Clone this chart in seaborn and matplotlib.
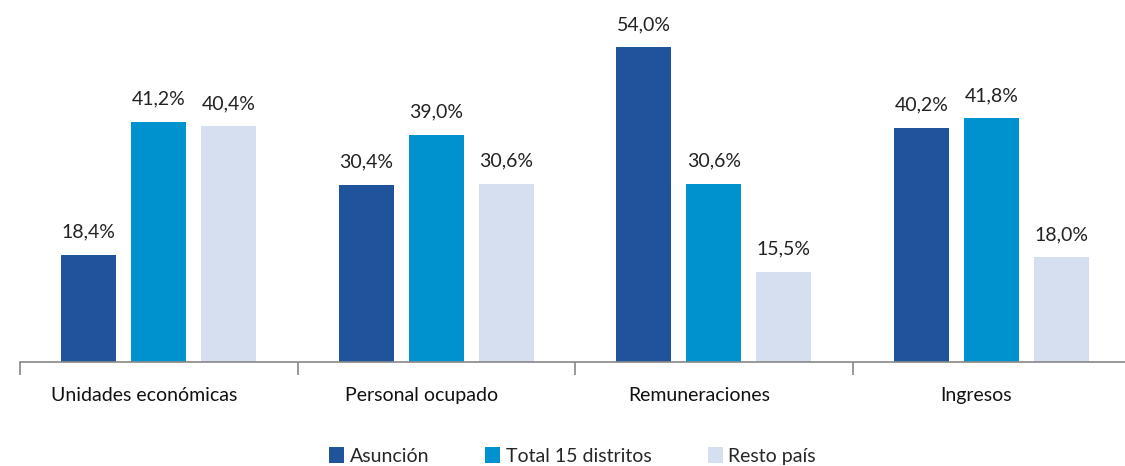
import matplotlib
matplotlib.use("Agg")
import matplotlib.pyplot as plt
import matplotlib.transforms as mtransforms
import seaborn as sns
import pandas as pd
from matplotlib.patches import Patch

categories = ["Unidades económicas", "Personal ocupado", "Remuneraciones", "Ingresos"]
series_names = ["Asunción", "Total 15 distritos", "Resto país"]
asuncion = [18.4, 30.4, 54.0, 40.2]
total15 = [41.2, 39.0, 30.6, 41.8]
resto = [40.4, 30.6, 15.5, 18.0]
colors = ["#1F539C", "#0091CF", "#D6DFEF"]

rows = []
for name, vals in zip(series_names, [asuncion, total15, resto]):
    for c, v in zip(categories, vals):
        rows.append({"cat": c, "serie": name, "val": v})
df = pd.DataFrame(rows)

sns.set_theme(style="white")
plt.rcParams["font.family"] = ["Lato", "DejaVu Sans"]

fig = plt.figure(figsize=(11.25, 4.66), dpi=100)
ax = fig.add_axes([20/1125, (466-362)/466, 1110/1125, 350/466])

sns.barplot(data=df, x="cat", y="val", hue="serie", order=categories,
            hue_order=series_names, palette=colors, width=0.757, gap=0.21,
            saturation=1, ax=ax, legend=False, edgecolor="none", linewidth=0)

ax.set_xlim(-0.5, 3.5)
ax.set_ylim(0, 60)
ax.set_xlabel("")
ax.set_ylabel("")
ax.set_yticks([])
for s in ["top", "right", "left"]:
    ax.spines[s].set_visible(False)
ax.spines["bottom"].set_color("#888888")
ax.spines["bottom"].set_linewidth(1.2)

ax.set_xticks(range(len(categories)))
ax.set_xticklabels(categories, fontsize=14, color="#111111")
ax.tick_params(axis="x", which="major", length=0, pad=18)
ax.set_xticks([-0.5, 0.5, 1.5, 2.5, 3.5], minor=True)
ax.tick_params(axis="x", which="minor", bottom=True, length=9, width=1.2,
               color="#888888", direction="out")
shift = mtransforms.ScaledTranslation(-15/100, 0, fig.dpi_scale_trans)
for lbl in ax.get_xticklabels():
    lbl.set_transform(lbl.get_transform() + shift)

for cont in ax.containers:
    for bar in cont:
        h = bar.get_height()
        ax.annotate(f"{h:.1f}%".replace(".", ","),
                    (bar.get_x() + bar.get_width()/2, h),
                    xytext=(0, 10), textcoords="offset points",
                    ha="center", va="bottom", fontsize=14, color="#222222")

handles = [Patch(facecolor=c, edgecolor="none") for c in colors]
fig.legend(handles, series_names, loc="lower center", bbox_to_anchor=(0.509, -0.035),
           ncol=3, frameon=False, fontsize=14, handlelength=0.75, handleheight=0.9,
           columnspacing=2.9, handletextpad=0.3)

fig.savefig("out.png", dpi=100)
